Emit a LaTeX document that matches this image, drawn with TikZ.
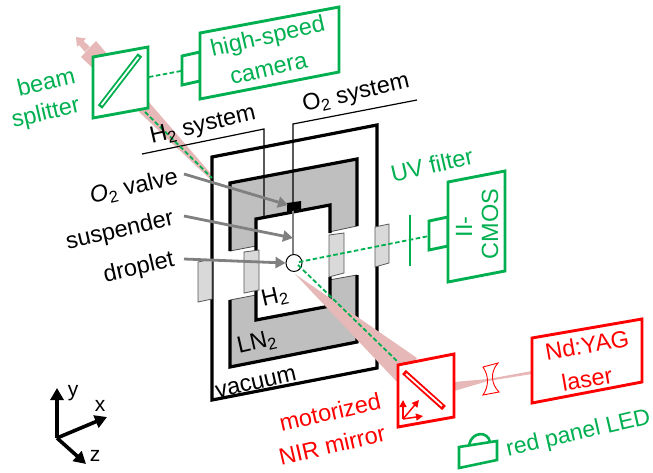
\documentclass[tikz,border=0pt]{standalone}
\usepackage{fontspec}
\setmainfont{Liberation Sans}
\definecolor{gn}{HTML}{00B050}
\definecolor{rd}{HTML}{FF0000}
\definecolor{pk}{HTML}{E6B8B7}
\definecolor{lngray}{HTML}{BFBFBF}
\definecolor{wingray}{HTML}{D9D9D9}
\definecolor{argray}{HTML}{808080}
\usetikzlibrary{arrows.meta,shapes.geometric}
\tikzset{
  lab/.style={font=\fontsize{23.5}{31}\selectfont,inner sep=0pt,align=center,rotate=13},
  blab/.style={lab,text=black},
  glab/.style={lab,text=gn},
  rlab/.style={lab,text=rd},
  gbox/.style={draw=gn,line width=2.9pt,fill=white,line join=miter},
  rbox/.style={draw=rd,line width=2.9pt,fill=white,line join=miter},
  wall/.style={draw=black,line width=3.2pt,line join=miter},
  thinwire/.style={draw=black,line width=1.2pt},
  winpane/.style={draw=black!65,line width=0.8pt,fill=wingray},
  gbeam/.style={draw=gn,line width=1.8pt,dash pattern=on 4.5pt off 2.5pt},
  pointer/.style={draw=argray,line width=2.8pt,-{Triangle[length=10pt,width=11pt]}},
  axis/.style={draw=black,line width=3.6pt,-{Triangle[length=12pt,width=13pt]}},
  smallax/.style={draw=rd,line width=1.5pt,-{Triangle[length=7pt,width=7pt]}},
}
\begin{document}
\begin{tikzpicture}[x=1pt,y=-1pt]
\useasboundingbox (0,0) rectangle (653,473);
% upper beam, behind everything
\fill[pk] (96,41) -- (212,175) -- (212,181) -- (81,57) -- cycle;
\fill[pk] (76,37) -- (86,38.5) -- (83.5,41) -- (90,47) -- (85,52) -- (79,45) -- (77,47) -- cycle;
% vacuum
\draw[wall,fill=white] (212,157) -- (377,125) -- (377,368) -- (212,400) -- cycle;
% LN2
\fill[lngray] (230,183) -- (357,159) -- (357,226) -- (329,232) -- (329,205) -- (256,219) -- (256,246) -- (230,251) -- cycle;
\fill[lngray] (230,300) -- (256,295) -- (256,320) -- (329,307) -- (329,280) -- (357,275) -- (357,342) -- (230,367) -- cycle;
\draw[black!70,line width=0.8pt] (230,251) -- (256,246) (329,232) -- (357,226) (230,300) -- (256,295) (329,280) -- (357,275);
\draw[wall] (230,251) -- (230,183) -- (357,159) -- (357,226);
\draw[wall] (230,300) -- (230,367) -- (357,342) -- (357,275);
% inner cell
\fill[white] (256,219) -- (330,205) -- (330,306) -- (256,320) -- cycle;
\draw[wall] (330,233) -- (330,205) -- (256,219) -- (256,320) -- (330,306) -- (330,277);
% wires
\draw[thinwire] (142,154) -- (264,129) -- (264,217);
\draw[thinwire] (417,100) -- (293,124) -- (293,204);
\draw[draw=argray,line width=1.2pt] (293,208) -- (293,255);
\fill[black] (287,203) -- (301,201) -- (301,209) -- (287,212) -- cycle;
% windows
\draw[winpane] (198,262) -- (212,259) -- (212,299) -- (198,302) -- cycle;
\draw[winpane] (244,252) -- (259,250) -- (259,290) -- (244,293) -- cycle;
\draw[winpane] (329,235) -- (344,233) -- (344,273) -- (329,277) -- cycle;
\draw[winpane] (375,227) -- (389,224) -- (389,263) -- (375,267) -- cycle;
% beams
\fill[pk] (295,274) -- (417,358) -- (398,383) -- cycle;
\fill[pk] (454,382) -- (488,379) -- (532,371) -- (532,374) -- (488,381) -- (454,391) -- cycle;
% droplet and its node
\node[draw=black,fill=white,ellipse,line width=1pt,minimum width=16pt,minimum height=17pt,inner sep=0pt] (drop) at (294,263) {};
% green optical paths
\coordinate (dgl) at (299,262);
\coordinate (ccd) at (429,236);
\coordinate (spl) at (145,112);
\coordinate (vac) at (212,178);
\coordinate (mir) at (398,362);
\coordinate (drr) at (298,265);
\draw[gbeam] (spl) -- (vac);
\draw[gbeam] (drr) -- (mir);
\draw[gbeam] (dgl) -- (ccd);
\draw[gn,line width=2.9pt] (410,215) -- (410,266);
% splitter
\draw[gbox] (93,57) -- (148,47) -- (148,108) -- (93,118) -- cycle;
\draw[gn,line width=5.6pt,line cap=butt] (100,107) -- (140,55);
\draw[white,line width=1.8pt] (101.5,105) -- (138.5,57);
% camera
\draw[gbox] (182,56) -- (200,52) -- (200,81) -- (182,85) -- cycle;
\draw[gbox] (200,33) -- (339,7) -- (339,72) -- (200,99) -- cycle;
\coordinate (spr) at (149,77);
\coordinate (cam) at (181,71);
\draw[gbeam] (spr) -- (cam);
% II-CMOS
\draw[gbox] (429,221) -- (448,217) -- (448,246) -- (429,250) -- cycle;
\draw[gbox] (448,182) -- (505,171) -- (505,271) -- (448,282) -- cycle;
\node[glab,rotate=77] (ii) at (464,227) {II-};
\node[glab,rotate=77] (cmos) at (490,224) {CMOS};
% mirror
\draw[rbox] (398,365) -- (454,354) -- (454,417) -- (398,427) -- cycle;
\draw[rd,line width=5.6pt] (404,372) -- (444,408);
\draw[white,line width=1.8pt] (406,374) -- (442,406);
\coordinate (m0) at (403,419);
\coordinate (mu) at (403,400);
\coordinate (md) at (419,400);
\coordinate (mr) at (423,416);
\draw[smallax] (m0) -- (mu);
\draw[smallax] (m0) -- (md);
\draw[smallax] (m0) -- (mr);
% lens
\draw[rd,line width=0.9pt] (483,367) -- (498,363) .. controls (490,372) and (491,384) .. (499,392) -- (483,395) .. controls (489,386) and (489,376) .. cycle;
% laser
\draw[rbox] (532,338) -- (642,319) -- (642,382) -- (532,403) -- cycle;
\node[rlab,rotate=-3] (nd) at (587,345) {Nd:YAG};
\node[rlab,rotate=-3] (laser) at (587,379) {laser};
% LED
\draw[gn,line width=2.6pt] (459,447) -- (497,441) -- (497,460) -- (459,468) -- cycle;
\draw[gn,line width=2.6pt] (469,445) .. controls (472,431) and (488,431) .. (490,442);
% pointers
\coordinate (p1) at (184,174);
\coordinate (p2) at (288,205);
\coordinate (p3) at (184,216);
\coordinate (p4) at (293,238);
\coordinate (p5) at (184,259);
\draw[pointer] (p1) -- (p2);
\draw[pointer] (p3) -- (p4);
\draw[pointer] (p5) -- (drop.west);
% labels
\node[glab] (bm) at (46,82) {beam};
\node[glab] (sp) at (46,114) {splitter};
\node[glab] (hs) at (268,38) {high-speed};
\node[glab] (cm) at (269,70) {camera};
\node[blab] (h2s) at (203,126) {H\textsubscript{2} system};
\node[blab] (o2s) at (356,94) {O\textsubscript{2} system};
\node[blab] (o2v) at (134,187) {\textit{O}\textsubscript{2} valve};
\node[blab] (sus) at (120,231) {suspender};
\node[blab] (drl) at (139,268) {droplet};
\node[glab] (uv) at (432,165) {UV filter};
\node[blab] (h2) at (275,297) {H\textsubscript{2}};
\node[blab] (ln2) at (257,343) {LN\textsubscript{2}};
\node[blab] (vacl) at (256,383) {vacuum};
\node[rlab] (mot) at (330,412) {motorized};
\node[rlab] (nir) at (332,445) {NIR mirror};
\node[glab,font=\fontsize{23}{31}\selectfont] (led) at (578.5,434) {red panel LED};
% axes
\coordinate (o) at (57,438);
\coordinate (ay) at (57,388);
\coordinate (ax) at (107,417);
\coordinate (az) at (86,464);
\draw[axis] (o) -- (ay);
\draw[axis] (o) -- (ax);
\draw[axis] (o) -- (az);
\node[font=\fontsize{21}{24}\selectfont,inner sep=0pt] (ylab) at (73,393) {y};
\node[font=\fontsize{21}{24}\selectfont,inner sep=0pt] (xlab) at (100,406) {x};
\node[font=\fontsize{21}{24}\selectfont,inner sep=0pt] (zlab) at (95,456) {z};
\end{tikzpicture}
\end{document}
